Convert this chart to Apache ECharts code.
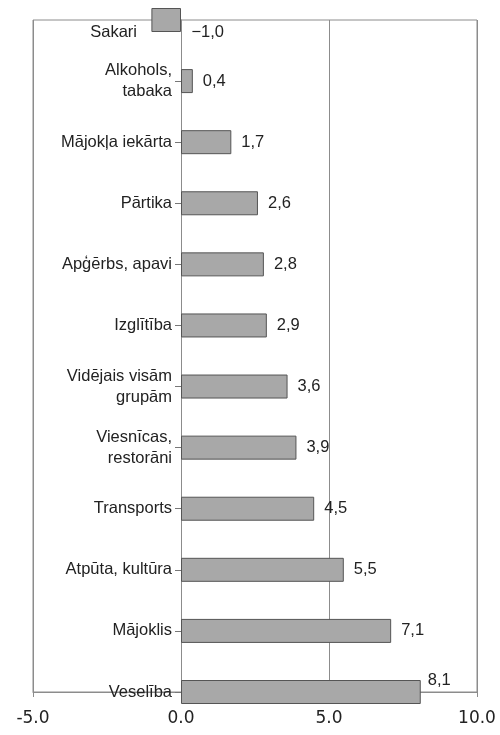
<!DOCTYPE html>
<html>
<head>
<meta charset="utf-8">
<script src="https://cdn.jsdelivr.net/npm/echarts@6/dist/echarts.min.js"></script>
<style>html,body{margin:0;padding:0;background:#fff}#c{width:500px;height:735px}</style>
</head>
<body>
<div id="c"></div>
<script>
var categories = ['Sakari', 'Alkohols,\ntabaka', 'Mājokļa iekārta', 'Pārtika', 'Apģērbs, apavi', 'Izglītība', 'Vidējais visām\ngrupām', 'Viesnīcas,\nrestorāni', 'Transports', 'Atpūta, kultūra', 'Mājoklis', 'Veselība'];
var values = [-1.0, 0.4, 1.7, 2.6, 2.8, 2.9, 3.6, 3.9, 4.5, 5.5, 7.1, 8.1];
var xTicks = [-5, 0, 5, 10];

var font = 'Liberation Sans';
var axisFont = 'DejaVu Sans';
var chart = echarts.init(document.getElementById('c'));
chart.setOption({
  animation: false,
  backgroundColor: '#fff',
  grid: { left: 33, right: 23, top: 20, bottom: 43, show: true, borderColor: '#8c8c8c', borderWidth: 1, containLabel: false, outerBoundsMode: 'none' },
  xAxis: {
    type: 'value', min: xTicks[0], max: xTicks[xTicks.length - 1], interval: 5,
    axisLine: { show: true, lineStyle: { color: '#8c8c8c' } },
    axisTick: { show: true, length: 5, lineStyle: { color: '#8c8c8c' } },
    splitLine: { show: true, lineStyle: { color: '#8c8c8c', width: 1 } },
    axisLabel: { fontFamily: axisFont, fontSize: 17, color: '#222', margin: 18, formatter: function (v) { return v.toFixed(1); } }
  },
  yAxis: {
    type: 'category', data: categories, inverse: true, boundaryGap: false,
    axisLine: { show: true, onZero: true, lineStyle: { color: '#8c8c8c' } },
    axisTick: { show: true, length: 6, lineStyle: { color: '#777' } },
    splitLine: { show: false },
    axisLabel: { fontFamily: font, fontSize: 16.5, color: '#222', margin: -139, lineHeight: 21, align: 'right', interval: 0, hideOverlap: false,
      formatter: function (v, i) { return i === 0 ? '{low|' + v + '}' : v; },
      rich: { low: { fontFamily: font, fontSize: 16.5, color: '#222', padding: [24, 35, 0, 0] } } }
  },
  series: [{
    type: 'bar', data: values.map(function (v, i) {
      if (v < 0) return { value: v, label: { position: 'insideLeft', offset: [30, 12] } };
      if (i === values.length - 1) return { value: v, label: { offset: [-3, -12] } };
      return v;
    }),
    barWidth: 24, clip: false,
    itemStyle: { color: '#a8a8a8', borderColor: '#555', borderWidth: 1 },
    label: { show: true, position: 'right', distance: 10, fontFamily: font, fontSize: 16.5, color: '#222',
      formatter: function (p) { return (p.value < 0 ? '\u2212' : '') + Math.abs(p.value).toFixed(1).replace('.', ','); } }
  }]
});
</script>
</body>
</html>
